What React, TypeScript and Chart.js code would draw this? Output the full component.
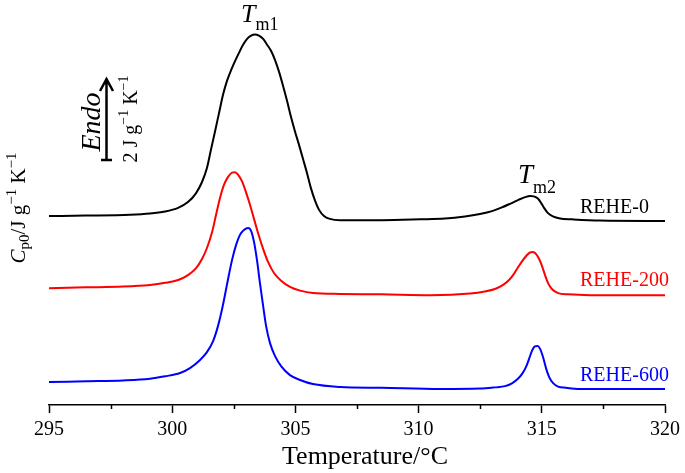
import React, { useEffect, useRef } from 'react';
import { Chart, registerables } from 'chart.js';

Chart.register(...registerables);

// ---- data (temperature in °C, Cp0 offset values in J g^-1 K^-1) ----
const tempRehe0 = [295, 296.5, 298.29, 299.1, 299.71, 300.24, 300.64, 300.97, 301.21, 301.41, 301.57, 301.74, 301.9, 302.06, 302.22, 302.39, 302.55, 302.71, 302.87, 303.04, 303.2, 303.36, 303.52, 303.69, 303.85, 304.01, 304.17, 304.34, 304.5, 304.66, 304.82, 304.98, 305.15, 305.31, 305.47, 305.63, 305.8, 305.96, 306.16, 306.4, 306.81, 308.5, 310.06, 311.07, 311.88, 312.49, 312.98, 313.38, 313.75, 314.07, 314.32, 314.52, 314.68, 314.85, 314.97, 315.09, 315.25, 315.45, 315.74, 316.23, 317.36, 320];
const cpRehe0 = [4.56, 4.57, 4.59, 4.62, 4.67, 4.76, 4.9, 5.12, 5.39, 5.73, 6.17, 6.63, 7.07, 7.51, 7.85, 8.12, 8.34, 8.54, 8.73, 8.88, 8.96, 8.99, 8.96, 8.88, 8.74, 8.59, 8.37, 8.07, 7.73, 7.37, 6.98, 6.63, 6.29, 5.95, 5.61, 5.24, 4.93, 4.71, 4.56, 4.49, 4.46, 4.46, 4.48, 4.5, 4.55, 4.61, 4.68, 4.77, 4.87, 4.96, 5.02, 5.05, 5.04, 4.98, 4.88, 4.76, 4.63, 4.55, 4.5, 4.48, 4.45, 4.44];

const tempRehe200 = [295, 296.5, 298, 299.1, 299.71, 300.24, 300.64, 300.97, 301.21, 301.41, 301.62, 301.78, 301.94, 302.1, 302.26, 302.43, 302.55, 302.67, 302.83, 302.99, 303.16, 303.32, 303.48, 303.69, 303.89, 304.13, 304.42, 304.78, 305.19, 305.71, 306.81, 308.5, 310.5, 312.09, 312.69, 313.1, 313.43, 313.67, 313.87, 314.07, 314.24, 314.4, 314.52, 314.64, 314.77, 314.89, 315.01, 315.13, 315.25, 315.41, 315.66, 316.06, 316.96, 318, 320];
const cpRehe200 = [2.8, 2.82, 2.84, 2.88, 2.93, 3.0, 3.12, 3.29, 3.51, 3.78, 4.17, 4.59, 5.0, 5.32, 5.51, 5.62, 5.63, 5.57, 5.41, 5.15, 4.83, 4.49, 4.15, 3.76, 3.44, 3.17, 2.98, 2.83, 2.74, 2.68, 2.66, 2.65, 2.63, 2.67, 2.72, 2.78, 2.88, 3.0, 3.15, 3.34, 3.49, 3.61, 3.67, 3.68, 3.63, 3.51, 3.34, 3.12, 2.93, 2.78, 2.68, 2.65, 2.63, 2.63, 2.63];

const tempRehe600 = [295, 296.5, 298, 299.1, 299.71, 300.32, 300.72, 301.13, 301.41, 301.66, 301.86, 302.06, 302.26, 302.43, 302.59, 302.75, 302.91, 303.08, 303.2, 303.32, 303.44, 303.56, 303.69, 303.81, 303.97, 304.17, 304.42, 304.78, 305.19, 305.71, 306.81, 308.5, 310.87, 312.49, 313.1, 313.51, 313.79, 314.03, 314.2, 314.36, 314.48, 314.6, 314.72, 314.83, 314.93, 315.05, 315.17, 315.3, 315.45, 315.66, 315.98, 316.55, 320];
const cpRehe600 = [0.51, 0.53, 0.55, 0.59, 0.65, 0.73, 0.85, 1.05, 1.24, 1.51, 1.88, 2.39, 3.0, 3.49, 3.85, 4.1, 4.22, 4.27, 4.2, 3.93, 3.49, 2.93, 2.37, 1.88, 1.46, 1.15, 0.9, 0.68, 0.56, 0.46, 0.39, 0.37, 0.34, 0.35, 0.38, 0.41, 0.48, 0.59, 0.71, 0.88, 1.07, 1.27, 1.38, 1.39, 1.32, 1.12, 0.85, 0.63, 0.49, 0.4, 0.37, 0.34, 0.34];

const seriesNames = ['REHE-0', 'REHE-200', 'REHE-600'];
const seriesColors = ['#000000', '#ff0000', '#0000ff'];
const xMin = 295;
const xMax = 320;
const xStep = 5;
const minorTicks = [297.5, 302.5, 307.5, 312.5, 317.5];
const xTitle = 'Temperature/°C';

const SERIF = '"Liberation Serif", "Times New Roman", serif';

type Part = { t: string; size: number; italic?: boolean; dy?: number };

function drawRich(
  ctx: CanvasRenderingContext2D,
  parts: Part[],
  x: number,
  y: number,
  rotate: boolean,
  align: 'left' | 'center',
  color = '#000'
) {
  ctx.save();
  ctx.translate(x, y);
  if (rotate) ctx.rotate(-Math.PI / 2);
  ctx.fillStyle = color;
  ctx.textAlign = 'left';
  ctx.textBaseline = 'alphabetic';
  const fontOf = (p: Part) => `${p.italic ? 'italic ' : ''}${p.size}px ${SERIF}`;
  let total = 0;
  for (const p of parts) {
    ctx.font = fontOf(p);
    total += ctx.measureText(p.t).width;
  }
  let cx = align === 'center' ? -total / 2 : 0;
  for (const p of parts) {
    ctx.font = fontOf(p);
    ctx.fillText(p.t, cx, p.dy || 0);
    cx += ctx.measureText(p.t).width;
  }
  ctx.restore();
}

const annotationPlugin = {
  id: 'dscAnnotations',
  afterDraw(chart: any) {
    const ctx: CanvasRenderingContext2D = chart.ctx;
    const xs = chart.scales.x;
    const axisY = chart.chartArea.bottom;

    // minor ticks
    ctx.save();
    ctx.strokeStyle = '#000';
    ctx.lineWidth = 1.5;
    for (const v of minorTicks) {
      const px = Math.round(xs.getPixelForValue(v)) + 0.5;
      ctx.beginPath();
      ctx.moveTo(px, axisY);
      ctx.lineTo(px, axisY + 4);
      ctx.stroke();
    }
    ctx.restore();

    // x-axis title
    drawRich(ctx, [{ t: xTitle, size: 26 }], 365, 464, false, 'center');

    // y-axis label
    drawRich(
      ctx,
      [
        { t: 'C', size: 21, italic: true },
        { t: 'p0', size: 15, dy: 4 },
        { t: '/J g', size: 21 },
        { t: '\u22121', size: 15, dy: -9 },
        { t: ' K', size: 21 },
        { t: '\u22121', size: 15, dy: -9 },
      ],
      25,
      208,
      true,
      'center'
    );

    // scale bar
    ctx.save();
    ctx.strokeStyle = '#000';
    ctx.lineWidth = 2.5;
    ctx.beginPath();
    ctx.moveTo(106.5, 80);
    ctx.lineTo(106.5, 160);
    ctx.moveTo(101, 160);
    ctx.lineTo(112, 160);
    ctx.moveTo(100, 91);
    ctx.lineTo(106.5, 79);
    ctx.lineTo(113, 91);
    ctx.stroke();
    ctx.restore();

    drawRich(ctx, [{ t: 'Endo', size: 28, italic: true }], 100, 122, true, 'center');
    drawRich(
      ctx,
      [
        { t: '2 J g', size: 20 },
        { t: '\u22121', size: 14, dy: -9 },
        { t: ' K', size: 20 },
        { t: '\u22121', size: 14, dy: -9 },
      ],
      137,
      119,
      true,
      'center'
    );

    // peak labels
    drawRich(ctx, [{ t: 'T', size: 26, italic: true }, { t: 'm1', size: 18, dy: 8 }], 241, 22, false, 'left');
    drawRich(ctx, [{ t: 'T', size: 27, italic: true }, { t: 'm2', size: 18, dy: 10 }], 518, 183, false, 'left');

    // series labels
    const labelY = [213, 286, 381];
    seriesNames.forEach((n, i) => {
      drawRich(ctx, [{ t: n, size: 20 }], 580, labelY[i], false, 'left', seriesColors[i]);
    });
  },
};

function toPoints(xs: number[], ys: number[]) {
  return xs.map((x, i) => ({ x, y: ys[i] }));
}

export default function App() {
  const ref = useRef<HTMLCanvasElement | null>(null);

  useEffect(() => {
    if (!ref.current) return;
    const allT = [tempRehe0, tempRehe200, tempRehe600];
    const allY = [cpRehe0, cpRehe200, cpRehe600];
    const chart = new Chart(ref.current, {
      type: 'line',
      data: {
        datasets: seriesNames.map((name, i) => ({
          label: name,
          data: toPoints(allT[i], allY[i]),
          borderColor: seriesColors[i],
          borderWidth: 2,
          pointRadius: 0,
          fill: false,
          cubicInterpolationMode: 'monotone' as const,
        })),
      },
      options: {
        animation: false,
        responsive: false,
        maintainAspectRatio: false,
        layout: { padding: { left: 49, right: 20, top: 0, bottom: 0 } },
        plugins: { legend: { display: false }, tooltip: { enabled: false } },
        scales: {
          x: {
            type: 'linear',
            min: xMin,
            max: xMax,
            ticks: {
              stepSize: xStep,
              autoSkip: false,
              maxRotation: 0,
              color: '#000',
              padding: 5,
              font: { family: SERIF, size: 20 },
            },
            grid: {
              display: true,
              drawOnChartArea: false,
              drawTicks: true,
              tickLength: 8,
              tickColor: '#000',
              tickWidth: 1.5,
            },
            border: { display: true, color: '#000', width: 1.5 },
            title: { display: false },
            afterFit: (s: any) => {
              s.height = 68;
            },
          },
          y: {
            type: 'linear',
            display: false,
            min: -0.05,
            max: 9.83,
          },
        },
      },
      plugins: [annotationPlugin],
    });
    return () => chart.destroy();
  }, []);

  return (
    <div style={{ position: 'absolute', left: 0, top: 0, width: 685, height: 473, background: '#fff' }}>
      <canvas ref={ref} width={685} height={473} style={{ width: 685, height: 473, display: 'block' }} />
    </div>
  );
}
